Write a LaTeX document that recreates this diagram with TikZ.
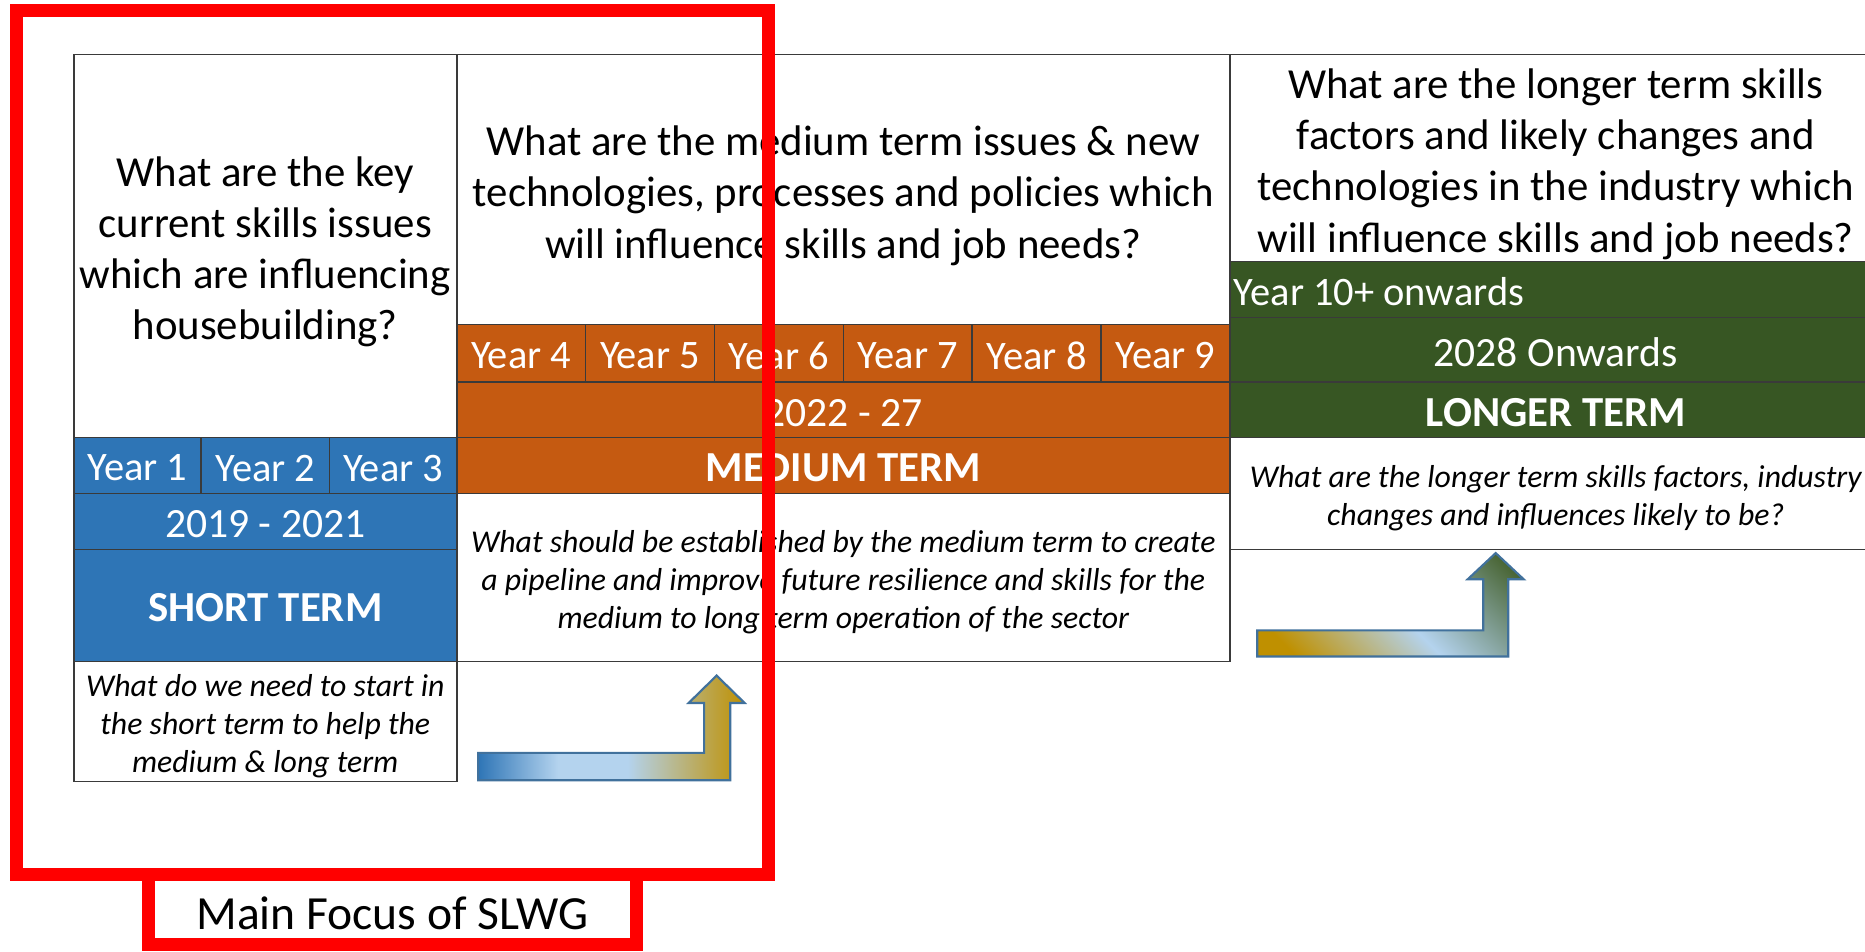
\documentclass[tikz,border=0pt]{standalone}
\usepackage{fontspec}
\setmainfont{Carlito}
\definecolor{sblue}{HTML}{2E75B6}
\definecolor{sorange}{HTML}{C55A11}
\definecolor{sgreen}{HTML}{375623}
\definecolor{gridc}{HTML}{3A3A3A}
\definecolor{lblue}{HTML}{B4D3EE}
\definecolor{agold}{HTML}{BF9000}
\definecolor{agreen}{HTML}{4A6636}
\definecolor{aline}{HTML}{41719C}
\pgfdeclarehorizontalshading{arrowA}{100bp}{color(0bp)=(sblue); color(25bp)=(sblue); color(40bp)=(lblue); color(53bp)=(lblue); color(75bp)=(agold); color(100bp)=(agold)}
\pgfdeclarehorizontalshading{arrowB}{100bp}{color(0bp)=(agold); color(22bp)=(agold); color(50bp)=(lblue); color(80bp)=(agreen); color(100bp)=(agreen)}
\tikzset{
  cellbox/.style={draw=gridc, line width=1.3pt, inner sep=0pt, outer sep=0pt, anchor=center},
  wcell/.style={cellbox, fill=white},
  bcell/.style={cellbox, fill=sblue},
  ocell/.style={cellbox, fill=sorange},
  gcell/.style={cellbox, fill=sgreen},
  txt/.style={inner sep=0pt, align=center},
  qtext/.style={txt, text=black, font=\fontsize{36}{43}\selectfont},
  itext/.style={txt, text=black, font=\itshape\fontsize{26.7}{32}\selectfont},
  yeartext/.style={txt, text=white, font=\fontsize{34}{40}\selectfont},
  datetext/.style={txt, text=white, font=\fontsize{35}{42}\selectfont},
  termtext/.style={txt, text=white, font=\bfseries\fontsize{36}{43}\selectfont},
  bigarrow/.style={draw=aline, line width=1.8pt, line join=miter},
  focusline/.style={draw=red, line width=11pt}
}
\begin{document}
\begin{tikzpicture}[x=1pt, y=-1pt]
\clip (0,0) rectangle (1568,800);
\fill[white] (0,0) rectangle (1568,800);
% short term column
\node[wcell, minimum width=322pt, minimum height=322pt] (q1) at (223,207) {};
\node[qtext] (q1t) at ([yshift=-4.5pt]q1.center) {What are the key\\current skills issues\\which are influencing\\housebuilding?};
\node[bcell, minimum width=107pt, minimum height=47pt] (y1) at (115.5,391.5) {};
\node[bcell, minimum width=108pt, minimum height=47pt] (y2) at (223,391.5) {};
\node[bcell, minimum width=107pt, minimum height=47pt] (y3) at (330.5,391.5) {};
\node[yeartext] (y1t) at ([yshift=-2pt]y1.center) {Year 1};
\node[yeartext] (y2t) at ([yshift=-2pt]y2.center) {Year 2};
\node[yeartext] (y3t) at ([yshift=-2pt]y3.center) {Year 3};
\node[bcell, minimum width=322pt, minimum height=47pt] (d1) at (223,438.5) {};
\node[datetext] (d1t) at ([yshift=-2.5pt]d1.center) {2019 - 2021};
\node[bcell, minimum width=322pt, minimum height=94pt] (st) at (223,509) {};
\node[termtext] (stt) at ([yshift=-2pt]st.center) {SHORT TERM};
\node[wcell, minimum width=322pt, minimum height=101pt] (i1) at (223,606.5) {};
\node[itext] (i1t) at ([yshift=-4pt]i1.center) {What do we need to start in\\the short term to help the\\medium \& long term};
% medium term column
\node[wcell, minimum width=650pt, minimum height=227pt] (q2) at (709,159.5) {};
\node[qtext] (q2t) at ([yshift=-5pt]q2.center) {What are the medium term issues \& new\\technologies, processes and policies which\\will influence skills and job needs?};
\foreach \i in {4,...,9}{
  \pgfmathsetmacro{\cx}{384+108.333*(\i-4)+54.167}
  \node[ocell, minimum width=108.333pt, minimum height=48pt] (y\i) at (\cx,297) {};
  \node[yeartext] (y\i t) at ([yshift=-2pt]y\i.center) {Year \i};
}
\node[ocell, minimum width=650pt, minimum height=47pt] (d2) at (709,344.5) {};
\node[datetext] (d2t) at ([yshift=-2.5pt]d2.center) {2022 - 27};
\node[ocell, minimum width=650pt, minimum height=47pt] (mt) at (709,391.5) {};
\node[termtext] (mtt) at ([yshift=-2pt]mt.center) {MEDIUM TERM};
\node[wcell, minimum width=650pt, minimum height=141pt] (i2) at (709,485.5) {};
\node[itext] (i2t) at ([yshift=-4pt]i2.center) {What should be established by the medium term to create\\a pipeline and improve future resilience and skills for the\\medium to long term operation of the sector};
% longer term column
\node[wcell, minimum width=548pt, minimum height=174pt] (q3) at (1308,133) {};
\node[qtext] (q3t) at ([yshift=-5pt]q3.center) {What are the longer term skills\\factors and likely changes and\\technologies in the industry which\\will influence skills and job needs?};
\node[gcell, minimum width=548pt, minimum height=47pt] (y10) at (1308,243.5) {};
\node[yeartext, anchor=west] (y10t) at ([yshift=-2pt]1037,243.5) {Year 10+ onwards};
\node[gcell, minimum width=548pt, minimum height=54pt] (d3) at (1308,294) {};
\node[datetext] (d3t) at ([yshift=-2pt]d3.center) {2028 Onwards};
\node[gcell, minimum width=548pt, minimum height=47pt] (lt) at (1308,344.5) {};
\node[termtext] (ltt) at ([yshift=-2.5pt]lt.center) {LONGER TERM};
\node[wcell, minimum width=548pt, minimum height=94pt] (i3) at (1308,415) {};
\node[itext] (i3t) at ([yshift=-4pt]i3.center) {What are the longer term skills factors, industry\\changes and influences likely to be?};
% arrows
\shade[shading=arrowA, bigarrow] (402,633) -- (592,633) -- (592,591) -- (579,591) -- (602.5,568) -- (626,591) -- (614,591) -- (614,656) -- (402,656) -- cycle;
\shade[shading=arrowB, shading angle=45, bigarrow] (1057,530) -- (1247,530) -- (1247,487) -- (1234,487) -- (1257.5,465) -- (1281,487) -- (1268,487) -- (1268,552) -- (1057,552) -- cycle;
% focus frame
\draw[focusline] (14,9) rectangle (646,735);
\node[focusline, fill=white, minimum width=410pt, minimum height=59pt, inner sep=0pt] (focus) at (330,764.5) {};
\node[txt, text=black, font=\fontsize{40}{48}\selectfont] (focust) at ([yshift=-3pt]focus.center) {Main Focus of SLWG};
\end{tikzpicture}
\end{document}
